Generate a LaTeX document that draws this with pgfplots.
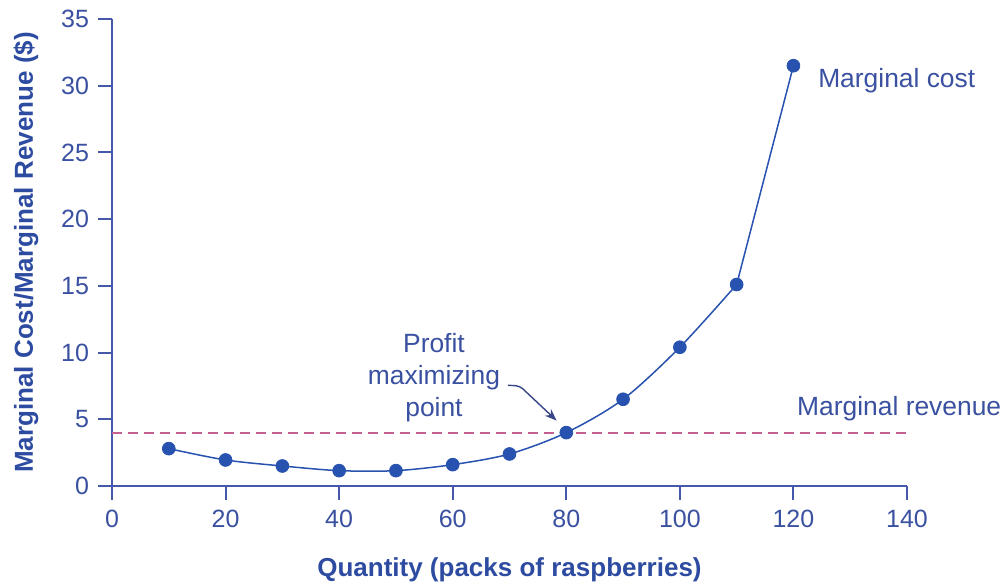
\documentclass[border=0pt]{standalone}
\usepackage{fontspec}
\setmainfont{Liberation Sans}
\usepackage{pgfplots}
\pgfplotsset{compat=1.18}
\usetikzlibrary{arrows.meta}
\definecolor{axisblue}{RGB}{70,88,170}
\definecolor{textblue}{RGB}{58,80,160}
\definecolor{labelblue}{RGB}{45,75,160}
\definecolor{mcblue}{RGB}{40,82,175}
\definecolor{mrpink}{RGB}{195,95,145}

\begin{document}
\begin{tikzpicture}
\useasboundingbox (-56pt,-51pt) rectangle (447pt,243pt);
\begin{axis}[
    anchor=origin, at={(0,0)},
    scale only axis,
    width=397.5pt, height=233.5pt,
    xmin=0, xmax=140, ymin=0, ymax=35,
    xtick={0,20,...,140}, ytick={0,5,...,35},
    axis x line=bottom, axis y line=left,
    axis line style={-, axisblue, line width=1pt},
    tick style={axisblue, line width=1pt},
    tick align=outside, major tick length=7pt,
    ticklabel style={font=\fontsize{12.5}{14}\selectfont, text=textblue},
    yticklabel style={xshift=-1pt},
    xticklabel style={yshift=-1.5pt},
    /pgf/number format/assume math mode=true,
    xlabel={Quantity (packs of raspberries)},
    ylabel={Marginal Cost/Marginal Revenue (\$)},
    every axis x label/.style={at={(axis description cs:0.5,0)}, anchor=center, yshift=-42pt,
        font=\fontsize{13}{15}\selectfont\bfseries, text=labelblue},
    every axis y label/.style={at={(axis description cs:0,0.5)}, anchor=center, rotate=90, yshift=43pt,
        font=\fontsize{13}{15}\selectfont\bfseries, text=labelblue},
    clip=false,
]
% marginal revenue
\addplot[mrpink, line width=1pt, dash pattern=on 5pt off 3pt] coordinates {(0,4) (140,4)};
% marginal cost
\addplot[mcblue, line width=0.75pt, smooth, tension=0.5] coordinates {
    (10,2.8) (20,1.95) (30,1.5) (40,1.15) (50,1.15) (60,1.6)
    (70,2.4) (80,4.0) (90,6.5) (100,10.4) (110,15.1)};
\addplot[mcblue, line width=0.75pt] coordinates {(110,15.1) (120,31.5)};
\addplot[only marks, mark=*, mark size=3.2pt, mcblue] coordinates {
    (10,2.8) (20,1.95) (30,1.5) (40,1.15) (50,1.15) (60,1.6)
    (70,2.4) (80,4.0) (90,6.5) (100,10.4) (110,15.1) (120,31.5)};
\node[anchor=west, inner sep=0pt, text=textblue, font=\fontsize{13.2}{15}\selectfont] at (axis cs:124.3,30.4) {Marginal cost};
\node[anchor=west, inner sep=0pt, text=textblue, font=\fontsize{13.2}{15}\selectfont] at (axis cs:120.6,5.8) {Marginal revenue};
\node[align=center, text=textblue, font=\fontsize{13.2}{16}\selectfont] at (axis cs:56.7,8.1) {Profit\\maximizing\\point};
\draw[-{Stealth[length=6pt,width=4.5pt]}, axisblue!80!black, line width=0.7pt, rounded corners=2pt]
    (axis cs:69.7,7.55) -- (axis cs:71.8,7.5) -- (axis cs:78.3,4.9);
\end{axis}
\end{tikzpicture}
\end{document}
